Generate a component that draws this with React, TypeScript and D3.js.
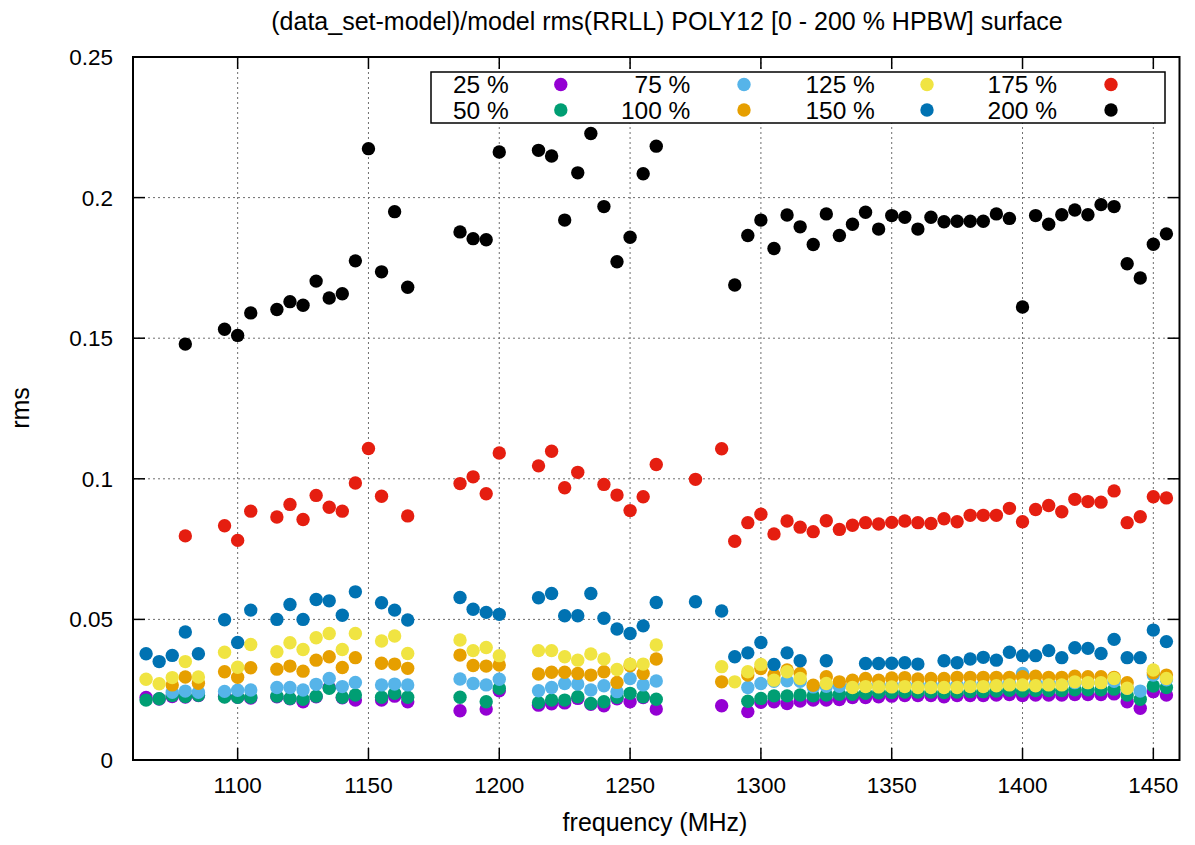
import React from "react";
import * as d3 from "d3";

const freqs = [
  1065, 1070, 1075, 1080, 1085, 1090, 1095, 1100, 1105, 1110,
  1115, 1120, 1125, 1130, 1135, 1140, 1145, 1150, 1155, 1160,
  1165, 1170, 1175, 1180, 1185, 1190, 1195, 1200, 1205, 1210,
  1215, 1220, 1225, 1230, 1235, 1240, 1245, 1250, 1255, 1260,
  1265, 1270, 1275, 1280, 1285, 1290, 1295, 1300, 1305, 1310,
  1315, 1320, 1325, 1330, 1335, 1340, 1345, 1350, 1355, 1360,
  1365, 1370, 1375, 1380, 1385, 1390, 1395, 1400, 1405, 1410,
  1415, 1420, 1425, 1430, 1435, 1440, 1445, 1450, 1455,
];

const _ = null;

// 25 %
const s25 = [
  0.0222, 0.0217, 0.0226, 0.0224, 0.0229, _, 0.0226, 0.0223, 0.0220, _,
  0.0225, 0.0218, 0.0207, 0.0225, 0.0258, 0.0221, 0.0213, _, 0.0213, 0.0227,
  0.0207, _, _, _, 0.0175, _, 0.0181, 0.0246, _, _,
  0.0195, 0.0200, 0.0203, 0.0219, 0.0198, 0.0193, 0.0218, 0.0207, 0.0222, 0.0181,
  _, _, _, _, 0.0193, _, 0.0172, 0.0205, 0.0207, 0.0201,
  0.0210, 0.0213, 0.0213, 0.0215, 0.0222, 0.0222, 0.0225, 0.0227, 0.0229, 0.0229,
  0.0229, 0.0225, 0.0229, 0.0229, 0.0229, 0.0231, 0.0233, 0.0229, 0.0231, 0.0231,
  0.0231, 0.0233, 0.0233, 0.0233, 0.0235, 0.0207, 0.0184, 0.0243, 0.0231,
];

// 50 %
const s50 = [
  0.0213, 0.0218, 0.0229, 0.0226, 0.0230, _, 0.0224, 0.0223, 0.0223, _,
  0.0227, 0.0219, 0.0216, 0.0227, 0.0255, 0.0223, 0.0231, _, 0.0223, 0.0237,
  0.0223, _, _, _, 0.0223, _, 0.0207, 0.0255, _, _,
  0.0204, 0.0213, 0.0213, 0.0225, 0.0201, 0.0207, 0.0223, 0.0237, 0.0225, 0.0216,
  _, _, _, _, _, _, 0.0209, 0.0219, 0.0228, 0.0228,
  0.0231, 0.0228, 0.0231, 0.0234, 0.0234, 0.0237, 0.0239, 0.0240, 0.0242, 0.0242,
  0.0242, 0.0240, 0.0242, 0.0243, 0.0243, 0.0245, 0.0248, 0.0245, 0.0247, 0.0247,
  0.0247, 0.0250, 0.0250, 0.0250, 0.0252, 0.0231, 0.0216, 0.0263, 0.0258,
];

// 75 %
const s75 = [
  _, _, 0.0241, 0.0245, 0.0241, _, 0.0244, 0.0248, 0.0249, _,
  0.0258, 0.0258, 0.0249, 0.0269, 0.0290, 0.0261, 0.0276, _, 0.0267, 0.0270,
  0.0267, _, _, _, 0.0288, 0.0272, 0.0267, 0.0287, _, _,
  0.0246, 0.0258, 0.0272, 0.0270, 0.0249, 0.0264, 0.0243, 0.0290, 0.0267, 0.0281,
  _, _, _, _, _, _, 0.0258, 0.0272, 0.0280, 0.0282,
  0.0280, 0.0260, 0.0262, 0.0262, 0.0262, 0.0264, 0.0264, 0.0265, 0.0266, 0.0266,
  0.0266, 0.0266, 0.0266, 0.0268, 0.0268, 0.0270, 0.0272, 0.0308, 0.0272, 0.0272,
  0.0272, 0.0275, 0.0275, 0.0275, 0.0280, 0.0255, 0.0245, 0.0302, 0.0285,
];

// 100 %
const s100 = [
  _, _, 0.0267, 0.0295, 0.0273, _, 0.0314, 0.0294, 0.0328, _,
  0.0323, 0.0334, 0.0316, 0.0355, 0.0367, 0.0329, 0.0364, _, 0.0344, 0.0341,
  0.0326, _, _, _, 0.0373, 0.0336, 0.0334, 0.0338, _, _,
  0.0306, 0.0312, 0.0312, 0.0308, 0.0302, 0.0314, 0.0276, 0.0335, 0.0308, 0.0359,
  _, _, _, _, 0.0278, _, 0.0302, 0.0325, 0.0302, 0.0320,
  0.0308, 0.0266, 0.0296, 0.0278, 0.0284, 0.0290, 0.0284, 0.0292, 0.0293, 0.0288,
  0.0290, 0.0290, 0.0294, 0.0294, 0.0294, 0.0294, 0.0294, 0.0296, 0.0298, 0.0294,
  0.0294, 0.0298, 0.0296, 0.0296, 0.0294, 0.0275, _, 0.0310, 0.0302,
];

// 125 %
const s125 = [
  0.0287, 0.0271, 0.0293, 0.0350, 0.0295, _, 0.0383, 0.0330, 0.0411, _,
  0.0385, 0.0417, 0.0393, 0.0435, 0.0450, 0.0393, 0.0450, _, 0.0423, 0.0441,
  0.0379, _, _, _, 0.0427, 0.0389, 0.0400, 0.0371, _, _,
  0.0389, 0.0389, 0.0367, 0.0355, 0.0377, 0.0359, 0.0322, 0.0341, 0.0341, 0.0409,
  _, _, _, _, 0.0332, 0.0278, 0.0314, 0.0340, 0.0284, 0.0314,
  0.0290, _, 0.0272, _, 0.0258, 0.0261, 0.0260, 0.0260, 0.0261, 0.0258,
  0.0258, 0.0258, 0.0258, 0.0261, 0.0261, 0.0264, 0.0267, 0.0267, 0.0264, 0.0267,
  0.0267, 0.0278, 0.0275, 0.0275, 0.0290, 0.0255, _, 0.0320, 0.0290,
];

// 150 %
const s150 = [
  0.0378, 0.0350, 0.0372, 0.0455, 0.0378, _, 0.0499, 0.0418, 0.0533, _,
  0.0500, 0.0553, 0.0500, 0.0571, 0.0566, 0.0515, 0.0598, _, 0.0559, 0.0533,
  0.0498, _, _, _, 0.0578, 0.0536, 0.0525, 0.0518, _, _,
  0.0577, 0.0592, 0.0513, 0.0513, 0.0592, 0.0504, 0.0466, 0.0450, 0.0477, 0.0560,
  _, _, 0.0563, _, 0.0530, 0.0367, 0.0381, 0.0418, 0.0340, 0.0381,
  0.0353, _, 0.0353, _, _, 0.0343, 0.0343, 0.0344, 0.0346, 0.0341,
  _, 0.0353, 0.0346, 0.0359, 0.0365, 0.0355, 0.0383, 0.0371, 0.0371, 0.0389,
  0.0364, 0.0399, 0.0397, 0.0379, 0.0429, 0.0364, 0.0364, 0.0462, 0.0421,
];

// 175 %
const s175 = [
  _, _, _, 0.0797, _, _, 0.0833, 0.0781, 0.0885, _,
  0.0864, 0.0909, 0.0855, 0.0941, 0.0899, 0.0885, 0.0985, 0.1108, 0.0938, _,
  0.0868, _, _, _, 0.0983, 0.1007, 0.0947, 0.1092, _, _,
  0.1046, 0.1098, 0.0968, 0.1023, _, 0.0980, 0.0942, 0.0887, 0.0936, 0.1051,
  _, _, 0.0998, _, 0.1107, 0.0778, 0.0844, 0.0874, 0.0804, 0.0850,
  0.0828, 0.0812, 0.0851, 0.0820, 0.0835, 0.0844, 0.0839, 0.0845, 0.0850, 0.0844,
  0.0841, 0.0858, 0.0847, 0.0870, 0.0870, 0.0870, 0.0895, 0.0847, 0.0891, 0.0905,
  0.0883, 0.0927, 0.0919, 0.0917, 0.0957, 0.0844, 0.0865, 0.0936, 0.0932,
];

// 200 %
const s200 = [
  _, _, _, 0.1479, _, _, 0.1532, 0.1510, 0.1590, _,
  0.1602, 0.1630, 0.1617, 0.1703, 0.1643, 0.1658, 0.1775, 0.2174, 0.1736, 0.1950,
  0.1681, _, _, _, 0.1878, 0.1854, 0.1850, 0.2162, _, _,
  0.2168, 0.2148, 0.1920, 0.2088, 0.2228, 0.1968, 0.1772, 0.1859, 0.2085, 0.2183,
  _, _, _, _, _, 0.1689, 0.1865, 0.1920, 0.1819, 0.1938,
  0.1896, 0.1833, 0.1942, 0.1865, 0.1905, 0.1948, 0.1888, 0.1936, 0.1930, 0.1888,
  0.1930, 0.1914, 0.1916, 0.1916, 0.1916, 0.1942, 0.1926, 0.1611, 0.1936, 0.1905,
  0.1939, 0.1956, 0.1939, 0.1975, 0.1968, 0.1765, 0.1714, 0.1834, 0.1871,
];

const seriesLabels = ["25 %", "50 %", "75 %", "100 %", "125 %", "150 %", "175 %", "200 %"];
const seriesValues = [s25, s50, s75, s100, s125, s150, s175, s200];
const seriesColors = ["#9400d3", "#009e73", "#56b4e9", "#e69f00", "#f0e442", "#0072b2", "#e51e10", "#000000"];

const xTicks = [1100, 1150, 1200, 1250, 1300, 1350, 1400, 1450];
const yTicks = [0, 0.05, 0.1, 0.15, 0.2, 0.25];
const yTickLabels = ["0", "0.05", "0.1", "0.15", "0.2", "0.25"];

const titleText = "(data_set-model)/model rms(RRLL) POLY12 [0 - 200 % HPBW] surface";
const xLabel = "frequency (MHz)";
const yLabel = "rms";

const FONT = "'Liberation Sans', Arial, Helvetica, sans-serif";

export default function App() {
  const left = 133, right = 1179.5, top = 57, bottom = 760;
  const x = d3.scaleLinear().domain([1060, 1460]).range([left, right]);
  const y = d3.scaleLinear().domain([0, 0.25]).range([bottom, top]);
  const r = 6.7;
  const tickLen = 12;

  // legend layout: gnuplot fills columns top-to-bottom
  const legTextX = [508.8, 690.4, 874.9, 1057];
  const legDotX = [560.8, 744, 927, 1111];
  const legRowY = [84.5, 110];

  return (
    <svg
      width={1195}
      height={845}
      style={{ position: "absolute", left: 0, top: 0, background: "#fff" }}
      fontFamily={FONT}
    >
      <rect x={0} y={0} width={1195} height={845} fill="#fff" />
      {/* grid */}
      <g stroke="#6e6e6e" strokeWidth={1} strokeDasharray="2,3">
        {xTicks.map((t) => (
          <line key={"gx" + t} x1={x(t)} x2={x(t)} y1={top} y2={bottom} />
        ))}
        {yTicks.slice(1, -1).map((t) => (
          <line key={"gy" + t} x1={left} x2={right} y1={y(t)} y2={y(t)} />
        ))}
      </g>
      {/* points */}
      {seriesValues.map((vals, si) => (
        <g key={"s" + si} fill={seriesColors[si]}>
          {vals.map((v, i) =>
            v == null ? null : <circle key={i} cx={x(freqs[i])} cy={y(v)} r={r} />
          )}
        </g>
      ))}
      {/* ticks */}
      <g stroke="#000" strokeWidth={1.5}>
        {xTicks.map((t) => (
          <g key={"tx" + t}>
            <line x1={x(t)} x2={x(t)} y1={bottom} y2={bottom - tickLen} />
            <line x1={x(t)} x2={x(t)} y1={top} y2={top + tickLen} />
          </g>
        ))}
        {yTicks.map((t) => (
          <g key={"ty" + t}>
            <line x1={left} x2={left + tickLen} y1={y(t)} y2={y(t)} />
            <line x1={right} x2={right - tickLen} y1={y(t)} y2={y(t)} />
          </g>
        ))}
      </g>
      {/* frame */}
      <rect x={left} y={top} width={right - left} height={bottom - top} fill="none" stroke="#000" strokeWidth={2} />
      {/* tick labels */}
      <g fontSize={22.5} fill="#000">
        {xTicks.map((t) => (
          <text key={"lx" + t} x={x(t)} y={793} textAnchor="middle">{t}</text>
        ))}
        {yTicks.map((t, i) => (
          <text key={"ly" + t} x={113} y={y(t) + 8} textAnchor="end">{yTickLabels[i]}</text>
        ))}
      </g>
      {/* axis labels and title */}
      <text x={655} y={831} textAnchor="middle" fontSize={25}>{xLabel}</text>
      <text transform="translate(29,408) rotate(-90)" textAnchor="middle" fontSize={25}>{yLabel}</text>
      <text x={667} y={30} textAnchor="middle" fontSize={25}>{titleText}</text>
      {/* legend */}
      <rect x={431} y={72} width={734} height={51} fill="#fff" stroke="#000" strokeWidth={1.5} />
      {seriesLabels.map((lab, si) => {
        const col = Math.floor(si / 2);
        const row = si % 2;
        return (
          <g key={"leg" + si}>
            <text x={legTextX[col]} y={legRowY[row] + 8.7} textAnchor="end" fontSize={24.5}>{lab}</text>
            <circle cx={legDotX[col]} cy={legRowY[row]} r={r} fill={seriesColors[si]} />
          </g>
        );
      })}
    </svg>
  );
}
